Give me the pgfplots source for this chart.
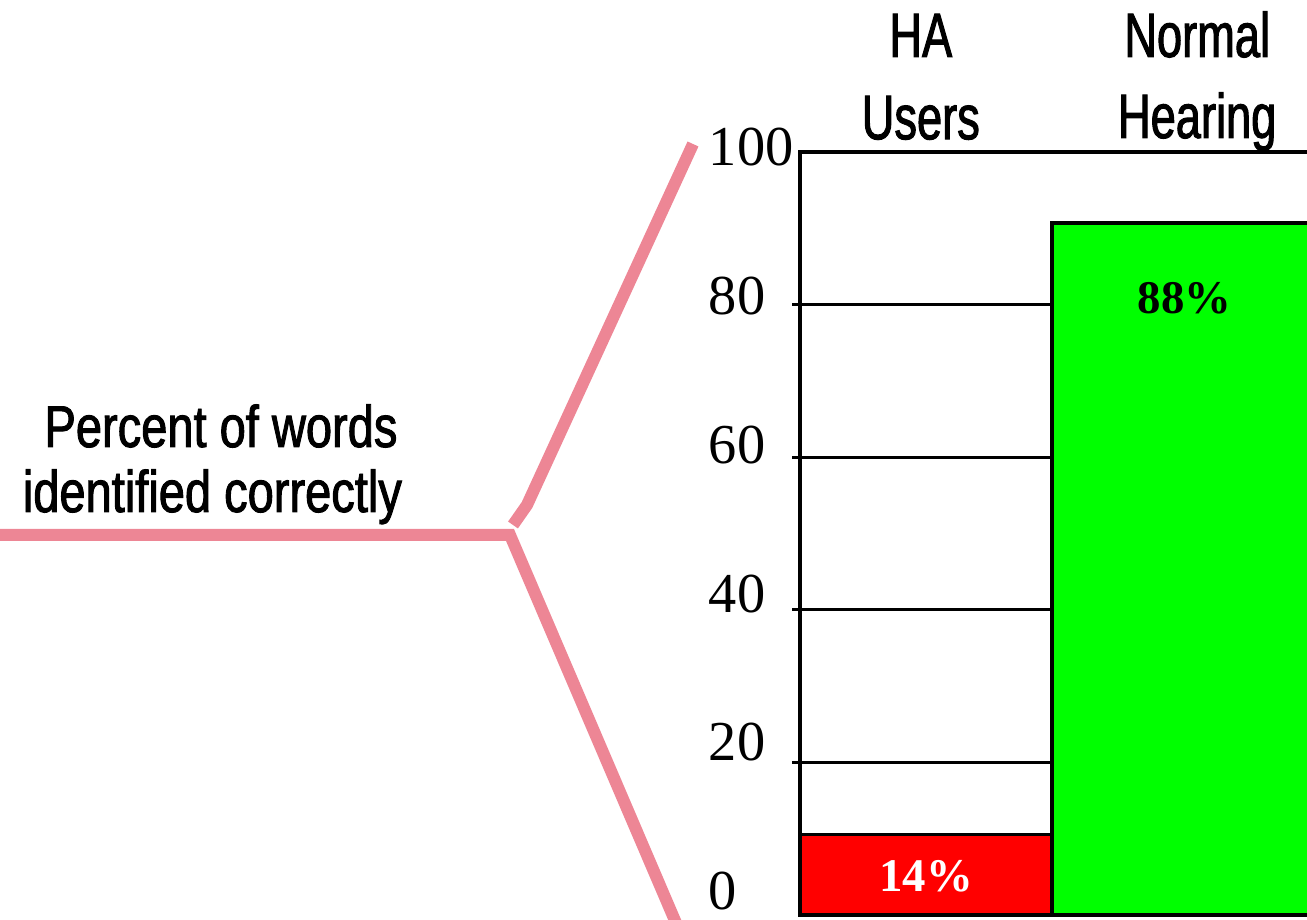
\documentclass[border=0pt]{standalone}
\usepackage{pgfplots}
\pgfplotsset{compat=1.18}
\usepackage{fontspec}
\setmainfont{Liberation Serif}
\newfontfamily\headfont[FakeStretch=0.72,FakeBold=1.6]{Liberation Sans}
\newfontfamily\labfont[FakeStretch=0.80,FakeBold=1.6]{Liberation Sans}
\definecolor{bracketpink}{RGB}{237,134,149}
\definecolor{barred}{RGB}{255,0,0}
\definecolor{bargreen}{RGB}{0,255,0}
\begin{document}
\begin{tikzpicture}
\path[use as bounding box] (0,0) rectangle (326.75pt,230pt);
\clip (0,0) rectangle (326.75pt,230pt);
\begin{axis}[
  scale only axis,
  anchor=south west, at={(200pt,1.25pt)},
  width=132.3pt, height=190.75pt,
  xmin=0, xmax=2.1, ymin=0, ymax=100,
  xtick=\empty,
  ytick={0,20,40,60,80,100},
  major tick length=0pt,
  ymajorgrids,
  grid style={black, line width=0.8pt},
  axis line style={black, line width=0.8pt},
  tick style={black, line width=0.8pt},
  /pgf/number format/assume math mode=true,
  yticklabel style={anchor=west, inner sep=0pt, xshift=-23pt,
    yshift={(6-0.975*\ticknum)*1pt},
    font=\fontsize{14.1}{16}\selectfont},
  extra y ticks={20,40,60,80},
  extra y tick labels={},
  extra y tick style={major tick length=2pt, tick align=outside, grid=none},
]
\addplot[ybar, bar shift=0pt, bar width=1, fill=barred, draw=black, line width=0.8pt,
  point meta=explicit symbolic, nodes near coords,
  every node near coord/.append style={anchor=center, yshift=-10.25pt, text=white,
    font=\bfseries\fontsize{11.7}{13}\selectfont}]
  coordinates {(0.5,10.5) [14\%]};
\addplot[ybar, bar shift=0pt, bar width=1.052, fill=bargreen, draw=black, line width=0.8pt,
  point meta=explicit symbolic, nodes near coords,
  every node near coord/.append style={anchor=center, yshift=-18.75pt, text=black,
    font=\bfseries\fontsize{11.7}{13}\selectfont}]
  coordinates {(1.526,90.7) [88\%]};
\end{axis}
\node[anchor=base, font=\headfont\fontsize{15.7}{18}\selectfont] at (230.2pt,215.75pt) {HA};
\node[anchor=base, font=\headfont\fontsize{15.7}{18}\selectfont] at (230.2pt,195.2pt) {Users};
\node[anchor=base, font=\headfont\fontsize{15.7}{18}\selectfont] at (299.3pt,215.75pt) {Normal};
\node[anchor=base, font=\headfont\fontsize{15.7}{18}\selectfont] at (299.3pt,195.5pt) {Hearing};
\node[anchor=base, font=\labfont\fontsize{14.7}{17}\selectfont] at (55.25pt,118.25pt) {Percent of words};
\node[anchor=base, font=\labfont\fontsize{14.7}{17}\selectfont] at (53.1pt,102pt) {identified correctly};
\draw[bracketpink, line width=3pt, line join=miter] (-2pt,96.25pt) -- (127.5pt,96.25pt) -- (169.75pt,-2.5pt);
\draw[bracketpink, line width=3pt] (128.25pt,98.75pt) -- (131.75pt,103.75pt) -- (173.25pt,194pt);
\end{tikzpicture}
\end{document}
